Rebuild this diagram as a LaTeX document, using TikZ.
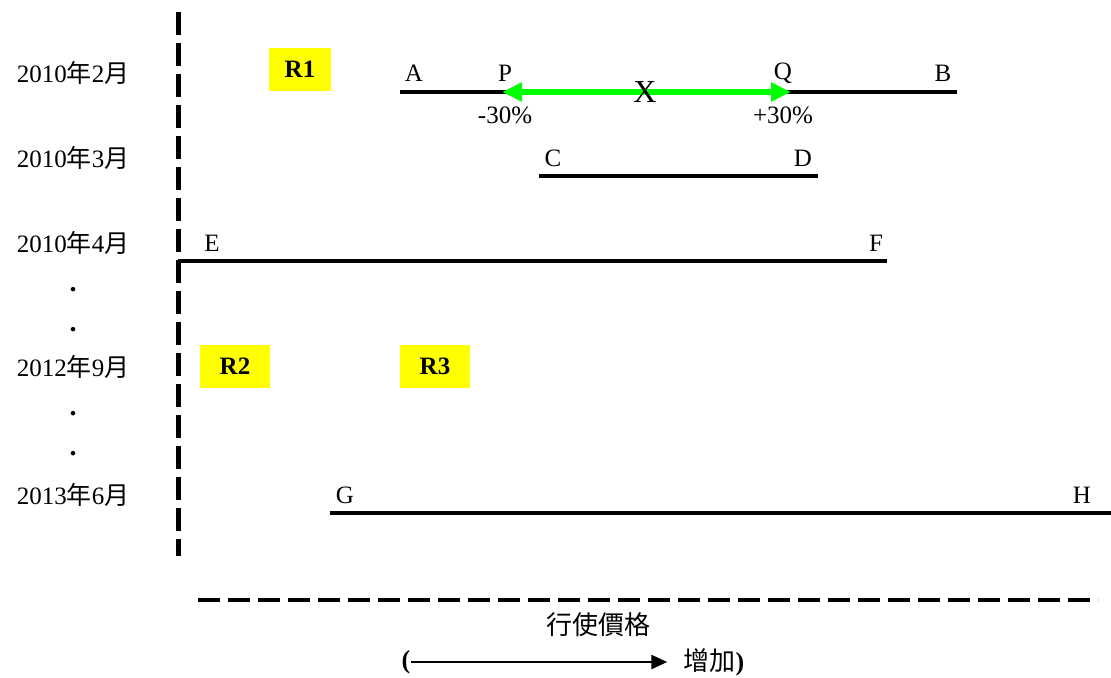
\documentclass[tikz,border=0pt]{standalone}
\usepackage{fontspec}
\setmainfont{Liberation Serif}
\newfontfamily\cjk{Noto Sans CJK TC}
\usetikzlibrary{arrows.meta, positioning}
\definecolor{regionYellow}{HTML}{FFFF00}
\definecolor{rangeGreen}{HTML}{00FF00}
\tikzstyle{price_line}=[line width=2.2pt, draw=black]
\tikzstyle{end_label}=[inner sep=0pt,
        font=\fontsize{12.5}{15}\selectfont]
\tikzstyle{region_box}=[rectangle,
        fill=regionYellow,
        inner sep=0pt,
        minimum height=21.5pt,
        font=\fontsize{12.5}{15}\selectfont\bfseries]
\tikzstyle{axis_line}=[line width=2.5pt, dash pattern=on 11.5pt off 4pt]

\begin{document}
\begin{tikzpicture}[x=0.5pt, y=-0.5pt]
    \useasboundingbox (0,0) rectangle (1111,677);

    % dates on the left
    \foreach \yy/\dd [count=\i] in {73/{2010{\cjk 年}2{\cjk 月}}, 158/{2010{\cjk 年}3{\cjk 月}}, 243/{2010{\cjk 年}4{\cjk 月}}, 367/{2012{\cjk 年}9{\cjk 月}}, 495/{2013{\cjk 年}6{\cjk 月}}} {
        \node at (73, \yy) (D\i) [end_label] {\dd};
    }
    \foreach \yy [count=\i] in {290, 330, 414, 454} {
        \node at (73, \yy) (dot\i) [end_label, font=\fontsize{14}{15}\selectfont\bfseries] {.};
    }

    % axes
    \coordinate (vtop) at (178, 12);
    \coordinate (vbot) at (178, 556);
    \draw[axis_line] (vtop) -- (vbot);
    \coordinate (hleft) at (198, 600);
    \coordinate (hright) at (1098, 600);
    \draw[axis_line, line width=2pt, dash pattern=on 11pt off 4pt] (hleft) -- (hright);

    % regions
    \node at (300, 69.5) (R1) [region_box, minimum width=31pt] {R1};
    \node at (235, 366) (R2) [region_box, minimum width=35pt] {R2};
    \node at (435, 366) (R3) [region_box, minimum width=35pt] {R3};

    % price ranges
    \coordinate (a) at (400, 92);
    \coordinate (b) at (957, 92);
    \coordinate (c) at (539, 176);
    \coordinate (d) at (818, 176);
    \coordinate (e) at (178, 261);
    \coordinate (f) at (887, 261);
    \coordinate (g) at (330, 513);
    \coordinate (h) at (1111, 513);
    \draw[price_line] (a) -- (b);
    \draw[price_line] (c) -- (d);
    \draw[price_line] (e) -- (f);
    \draw[price_line] (g) -- (h);

    \node at (414, 73) (A) [end_label] {A};
    \node at (943, 73) (B) [end_label] {B};
    \node at (553, 158) (C) [end_label] {C};
    \node at (803, 158) (D) [end_label] {D};
    \node at (212, 243) (E) [end_label] {E};
    \node at (876, 243) (F) [end_label] {F};
    \node at (345, 495) (G) [end_label] {G};
    \node at (1082, 495) (H) [end_label] {H};

    % +/- 30% band
    \coordinate (p) at (502, 92);
    \coordinate (q) at (791, 92);
    \draw[rangeGreen, line width=2.6pt, {Triangle[length=10pt, width=9pt]}-{Triangle[length=10pt, width=9pt]}] (p) -- (q);
    \node at (505, 73) (P) [end_label] {P};
    \node at (783, 73) (Q) [end_label] {Q};
    \node at (645, 92) (X) [end_label, font=\fontsize{16}{18}\selectfont] {X};
    \node at (505, 115) (minus) [end_label] {-30\%};
    \node at (783, 115) (plus) [end_label] {+30\%};

    % strike price axis label
    \node at (598, 625) (strike) [end_label, font=\fontsize{13}{15}\selectfont\cjk] {行使價格};
    \node at (406, 662) (lpar) [end_label, font=\fontsize{13}{15}\selectfont\bfseries] {(};
    \node at (714, 662) (incr) [end_label, font=\fontsize{13}{15}\selectfont\bfseries] {{\cjk\mdseries 增加})};
    \draw[line width=1.2pt, -{Triangle[length=8pt, width=7pt]}, shorten >=8pt] (lpar) -- (incr);
\end{tikzpicture}
\end{document}
